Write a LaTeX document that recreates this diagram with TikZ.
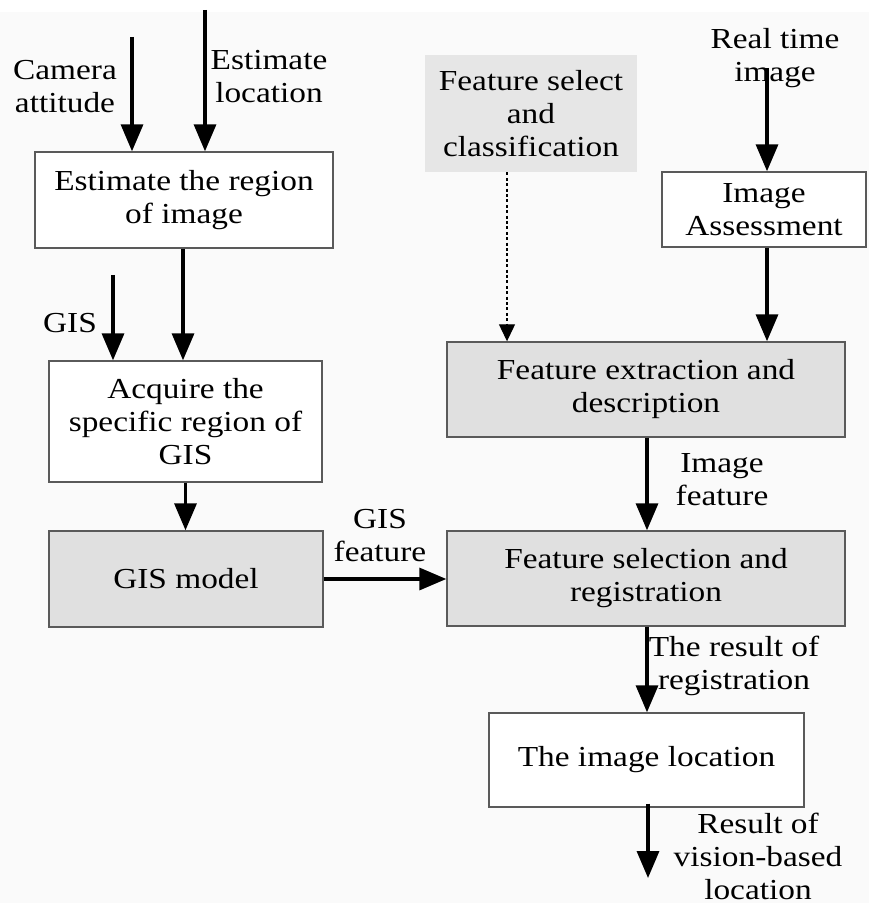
\documentclass[tikz,border=0pt]{standalone}
\usepackage{fontspec}
\setmainfont{Liberation Serif}[FakeStretch=1.15]
\usepackage{tikz}
\usetikzlibrary{arrows.meta,positioning,calc}
\definecolor{boxgray}{RGB}{224,224,224}
\definecolor{selgray}{RGB}{230,230,230}
\definecolor{edgegray}{RGB}{90,90,90}

\begin{document}
\begin{tikzpicture}[
        x=0.5pt, y=-0.5pt,
        font=\fontsize{14.5}{16.5}\selectfont,
        block/.style={rectangle, draw=edgegray, line width=0.7pt, fill=#1, inner sep=2pt, align=center},
        block/.default=white,
        lbl/.style={align=center, inner sep=0pt},
        arrow/.style={-{Triangle[width=11pt,length=13.5pt]}, line width=1.7pt},
        hint/.style={-{Triangle[width=8pt,length=8.5pt]}, line width=0.6pt, dash pattern=on 1.5pt off 1.2pt}
    ]
        \useasboundingbox (0,0) rectangle (869,903);
        \fill[gray!4] (0,12) rectangle (869,903);

        % left column
        \node[block, minimum width=149pt, minimum height=48pt] (est) at (184,200) {Estimate the region\\of image};
        \node[block, minimum width=136.5pt, minimum height=60.5pt] (acq) at (185.5,421.5) {Acquire the\\specific region of\\GIS};
        \node[block=boxgray, minimum width=137pt, minimum height=48pt] (gis) at (186,579) {GIS model};

        % right column
        \node[rectangle, fill=selgray, minimum width=106pt, minimum height=58.5pt, align=center, inner sep=2pt] (sel) at (531,113.5) {Feature select\\and\\classification};
        \node[block, minimum width=102pt, minimum height=37.5pt] (assess) at (764,209.5) {Image\\Assessment};
        \node[block=boxgray, minimum width=199pt, minimum height=47.5pt] (extr) at (646,389.5) {Feature extraction and\\description};
        \node[block=boxgray, minimum width=199pt, minimum height=47.5pt] (reg) at (646,578.5) {Feature selection and\\registration};
        \node[block, minimum width=157.5pt, minimum height=47pt] (loc) at (646.5,760) {The image location};

        % free ends of the input and output arrows
        \coordinate (cam) at (132,37);
        \coordinate (estin) at (205,10);
        \coordinate (gisin) at (113,275);
        \coordinate (rtin) at (767,68);
        \coordinate (out) at (648,878);

        % labels
        \node[lbl] (camlbl) at (65,87) {Camera\\attitude};
        \node[lbl] (estlbl) at (269,77) {Estimate\\location};
        \node[lbl] (gislbl) at (70,323) {GIS};
        \node[lbl] (gfeat) at (380,536) {GIS\\feature};
        \node[lbl] (rtlbl) at (775,58) {Real time\\image};
        \node[lbl] (ifeat) at (722,480) {Image\\feature};
        \node[lbl] (reslbl) at (734,666) {The result of\\registration};
        \node[lbl] (outlbl) at (758,856) {Result of\\vision-based\\location};

        % connectors
        \draw[arrow] (cam) -- (cam |- est.north);
        \draw[arrow] (estin) -- (estin |- est.north);
        \draw[arrow] (gisin) -- (gisin |- acq.north);
        \draw[arrow] ([xshift=-0.5pt]est.south) -- ([xshift=-0.5pt]est.south |- acq.north);
        \draw[arrow] (acq.south) -- (acq.south |- gis.north);
        \draw[arrow] (gis.east) -- (gis.east -| reg.west);
        \draw[arrow] (rtin) -- (rtin |- assess.north);
        \draw[arrow] (rtin |- assess.south) -- (rtin |- extr.north);
        \draw[hint] ([xshift=-12pt]sel.south) -- ([xshift=-12pt]sel.south |- extr.north);
        \draw[arrow] ([xshift=0.5pt]extr.south) -- ([xshift=0.5pt]extr.south |- reg.north);
        \draw[arrow] ([xshift=0.5pt]reg.south) -- ([xshift=0.5pt]reg.south |- loc.north);
        \draw[arrow] ([yshift=2pt]out |- loc.south) -- (out);
\end{tikzpicture}
\end{document}
